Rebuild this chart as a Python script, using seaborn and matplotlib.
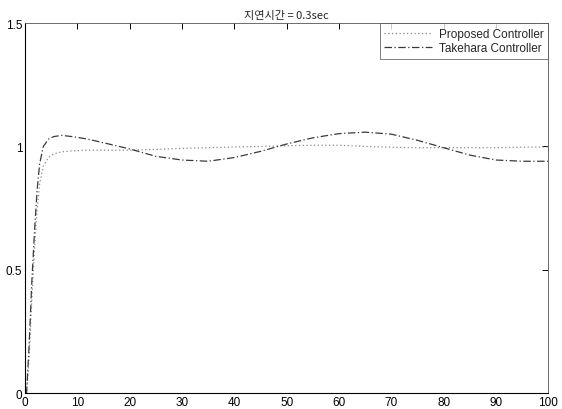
import numpy as np
import pandas as pd
import seaborn as sns
import matplotlib
matplotlib.use("Agg")
import matplotlib.pyplot as plt

# %% Data
time = [0, 0.3, 0.8, 1.3, 1.8, 2.3, 2.8, 3.5, 4.5, 5.5, 7, 9, 12, 15, 20, 25,
        30, 35, 40, 45, 50, 55, 60, 65, 70, 75, 80, 85, 90, 95, 100]
proposed = [0, 0, 0.15, 0.38, 0.58, 0.74, 0.85, 0.92, 0.955, 0.97, 0.978, 0.982,
            0.985, 0.985, 0.985, 0.988, 0.992, 0.995, 0.998, 1.0, 1.003, 1.005,
            1.005, 1.0, 0.997, 0.995, 0.995, 0.995, 0.995, 0.997, 0.998]
takehara = [0, 0, 0.2, 0.45, 0.65, 0.82, 0.93, 1.0, 1.03, 1.04, 1.045, 1.04,
            1.03, 1.015, 0.99, 0.96, 0.945, 0.94, 0.955, 0.98, 1.01, 1.035,
            1.052, 1.058, 1.05, 1.025, 0.995, 0.965, 0.945, 0.94, 0.94]
labels = ["Proposed Controller", "Takehara Controller"]
x_ticks = [0, 10, 20, 30, 40, 50, 60, 70, 80, 90, 100]
y_ticks = [0, 0.5, 1, 1.5]
title = "지연시간 = 0.3sec"

df = pd.DataFrame({
    "t": time * 2,
    "y": proposed + takehara,
    "controller": [labels[0]] * len(time) + [labels[1]] * len(time),
})

# %% Plot
sns.set_style("white")
plt.rcParams["font.family"] = ["Liberation Sans", "Noto Sans CJK KR", "DejaVu Sans"]

fig = plt.figure(figsize=(5.62, 4.10), dpi=100)
ax = fig.add_axes([0.0445, 0.039, 0.931, 0.902])
sns.lineplot(data=df, x="t", y="y", hue="controller", style="controller",
             palette={labels[0]: "#8a8a8a", labels[1]: "#3a3a3a"},
             dashes={labels[0]: (1, 2), labels[1]: (6, 2, 1, 2)},
             linewidth=0.9, ax=ax)

ax.set_xlim(0, 100)
ax.set_ylim(0, 1.5)
ax.set_xticks(x_ticks)
ax.set_yticks(y_ticks)
ax.set_yticklabels(["0", "0.5", "1", "1.5"])
ax.set_xlabel("")
ax.set_ylabel("")
ax.tick_params(direction="in", length=4, width=0.7, top=True, right=True,
               labelsize=8.5, pad=2, colors="black")
for side, sp in ax.spines.items():
    sp.set_color("black" if side in ("left", "bottom") else "#555555")
    sp.set_linewidth(0.8 if side in ("left", "bottom") else 0.6)
ax.set_title(title, fontsize=8, pad=4,
             family=["Noto Sans CJK KR", "Liberation Sans"])

leg = ax.legend(loc="upper right", fontsize=8.5, frameon=True, fancybox=False,
                edgecolor="#444444", borderaxespad=0, handlelength=4.0,
                handletextpad=0.6, borderpad=0.4, labelspacing=0.2)
leg.get_frame().set_linewidth(0.6)

fig.savefig("out.png", dpi=100)
